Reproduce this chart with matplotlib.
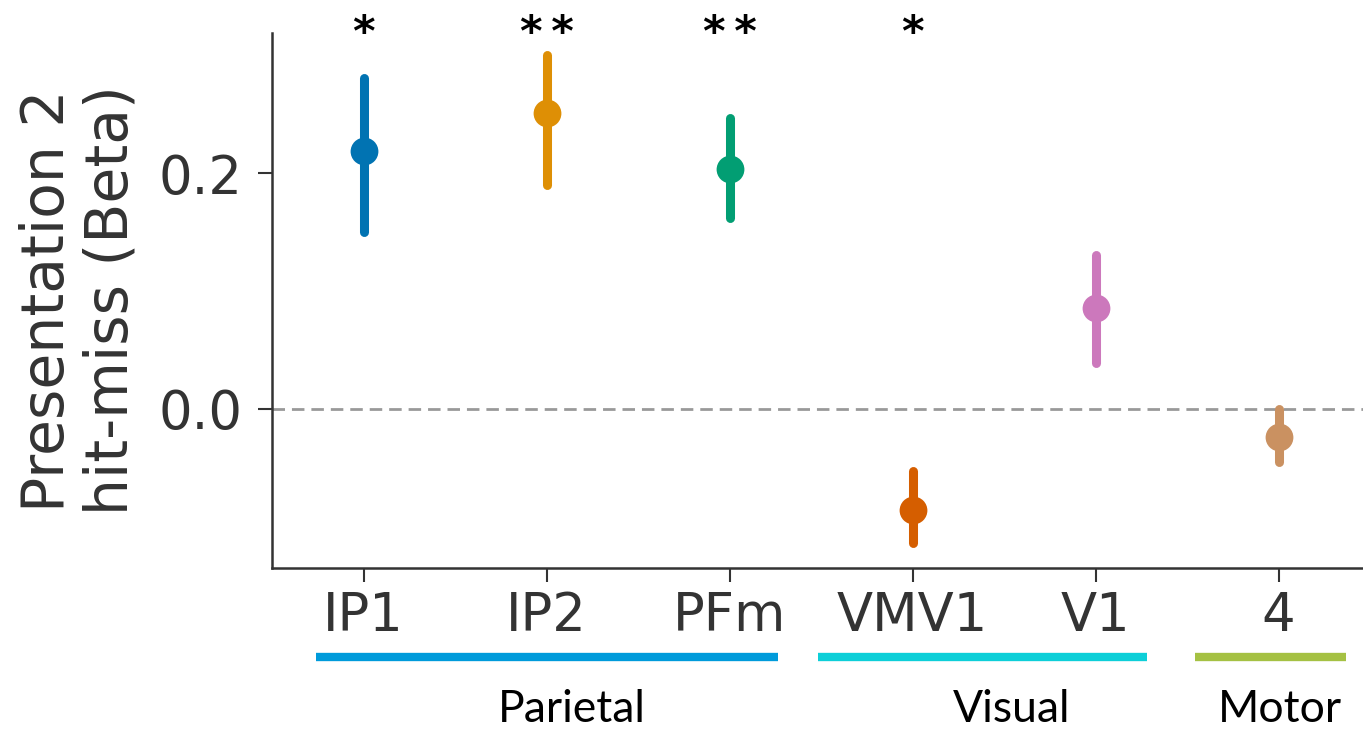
import matplotlib
matplotlib.use("Agg")
import matplotlib.pyplot as plt

regions = ["IP1", "IP2", "PFm", "VMV1", "V1", "4"]
means = [0.219, 0.251, 0.204, -0.086, 0.086, -0.024]
ci_low = [0.150, 0.190, 0.162, -0.114, 0.039, -0.045]
ci_high = [0.281, 0.300, 0.247, -0.053, 0.131, 0.000]
colors = ["#0173b2", "#de8f05", "#029e73", "#d55e00", "#cc78bc", "#ca9161"]
stars = ["*", "**", "**", "*", "", ""]

groups = ["Parietal", "Visual", "Motor"]
group_colors = ["#009bdb", "#0dcfd8", "#a5c143"]

W, H = 1363, 729
fig = plt.figure(figsize=(W / 100, H / 100), dpi=100)

def fx(px):
    return px / W

def fy(py):
    return 1 - py / H

ax = fig.add_axes([fx(272), fy(568), fx(1370) - fx(272), fy(33) - fy(568)])
ax.set_xlim(-0.5, 5.5)
ax.set_ylim(-0.135, 0.319)

ax.axhline(0, color="#999999", linestyle="--", linewidth=2, dashes=(4.5, 2.5), zorder=1)

for i, (m, lo, hi, c) in enumerate(zip(means, ci_low, ci_high, colors)):
    ax.plot([i, i], [lo, hi], color=c, linewidth=6.5, solid_capstyle="round", zorder=2)
    ax.plot([i], [m], marker="o", markersize=20, color=c, markeredgewidth=0, zorder=3)

for s in ["top", "right"]:
    ax.spines[s].set_visible(False)
for s in ["left", "bottom"]:
    ax.spines[s].set_color("#333333")
    ax.spines[s].set_linewidth(1.8)

ax.set_xticks(range(len(regions)))
ax.set_xticklabels(regions)
ax.set_yticks([0.0, 0.2])
ax.set_yticklabels(["0.0", "0.2"])
ax.tick_params(axis="both", labelsize=38, colors="#333333", length=10, width=1.5)
ax.tick_params(axis="y", pad=11)
ax.tick_params(axis="x", pad=6)
ax.set_ylabel("Presentation 2\nhit-miss (Beta)", fontsize=42, color="#333333", labelpad=14,
              linespacing=1.15)

for i, s in enumerate(stars):
    if s:
        xd = ax.transData.transform((i, 0))[0]
        fig.text(xd / W, fy(46), "\u2009".join(s) if len(s) > 1 else s, ha="center",
                 va="baseline", fontsize=31, fontweight="bold", color="black")

# group bars and labels in figure pixel coords
bar_spans = [(316, 778), (818, 1147), (1195, 1346)]
label_pos = [(572, 710), (1012, 710), (1280, 710)]
for (x0, x1), c in zip(bar_spans, group_colors):
    fig.add_artist(plt.Line2D([fx(x0), fx(x1)], [fy(657), fy(657)], color=c, linewidth=6,
                              solid_capstyle="butt", transform=fig.transFigure))
for (x, y), g in zip(label_pos, groups):
    fig.text(fx(x), fy(y), g, ha="center", va="center", fontsize=32, color="black",
             family=["Lato", "DejaVu Sans"])

fig.savefig("out.png", dpi=100)
